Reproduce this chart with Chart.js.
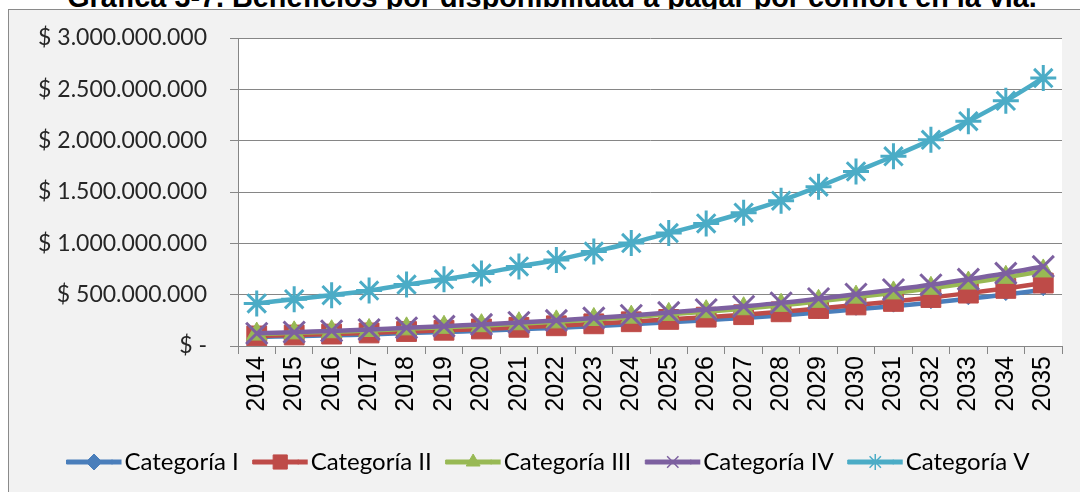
<!DOCTYPE html>
<html>
<head>
<meta charset="utf-8">
<script src="https://cdn.jsdelivr.net/npm/chart.js@4.4.0/dist/chart.umd.min.js"></script>
<style>
  html, body { margin: 0; padding: 0; background: #fff; overflow: hidden; }
  body { width: 1080px; height: 492px; position: relative; }
  #titulo {
    position: absolute; left: 0; width: 1104px; top: -17px;
    text-align: center; white-space: nowrap; color: #000;
    font: bold 28.8px "Liberation Sans", Arial, sans-serif; line-height: 28.8px;
  }
  #marco {
    position: absolute; left: 8px; top: 9px; width: 1100px; height: 500px;
    background: #f2f2f2; border: 1px solid #8a8a8a;
  }
  #caja { position: absolute; left: 0; top: 0; width: 1071px; height: 482px; }
</style>
</head>
<body>
<div id="titulo">Gráfica 3-7. Beneficios por disponibilidad a pagar por confort en la vía.</div>
<div id="marco">
  <div id="caja"><canvas id="grafica"></canvas></div>
</div>
<script>
// años del horizonte de evaluación
var anios = ['2014','2015','2016','2017','2018','2019','2020','2021','2022','2023','2024',
             '2025','2026','2027','2028','2029','2030','2031','2032','2033','2034','2035'];

// beneficios en pesos (aproximados)
var categoriaI   = [87e6, 96e6, 104e6, 113e6, 126e6, 137e6, 148e6, 163e6, 176e6, 193e6, 211e6,
                    231e6, 251e6, 273e6, 297e6, 326e6, 357e6, 388e6, 422e6, 460e6, 501e6, 548e6];
var categoriaII  = [98e6, 107e6, 116e6, 127e6, 141e6, 153e6, 166e6, 182e6, 197e6, 216e6, 236e6,
                    259e6, 281e6, 305e6, 333e6, 365e6, 400e6, 434e6, 472e6, 515e6, 561e6, 613e6];
var categoriaIII = [116e6, 128e6, 139e6, 151e6, 167e6, 182e6, 198e6, 217e6, 235e6, 258e6, 281e6,
                    308e6, 334e6, 363e6, 396e6, 435e6, 476e6, 517e6, 562e6, 613e6, 669e6, 731e6];
var categoriaIV  = [123e6, 135e6, 147e6, 160e6, 177e6, 193e6, 210e6, 230e6, 249e6, 273e6, 298e6,
                    327e6, 355e6, 386e6, 420e6, 461e6, 505e6, 549e6, 596e6, 650e6, 709e6, 775e6];
var categoriaV   = [415e6, 456e6, 495e6, 540e6, 598e6, 650e6, 706e6, 775e6, 838e6, 920e6, 1003e6,
                    1100e6, 1194e6, 1298e6, 1415e6, 1552e6, 1700e6, 1848e6, 2008e6, 2190e6, 2388e6, 2610e6];

var ejeMax = 3000000000;
var ejePaso = 500000000;

function pesos(v) {
  if (v === 0) return '$ -';
  return '$ ' + String(v).replace(/\B(?=(\d{3})+(?!\d))/g, '.');
}

function serie(nombre, datos, color, estilo, radio, orden) {
  return {
    label: nombre,
    data: datos,
    borderColor: color,
    backgroundColor: color,
    borderWidth: 4.5,
    tension: 0.35,
    pointStyle: estilo,
    pointRadius: radio,
    pointHoverRadius: radio,
    pointBorderWidth: (estilo === 'crossRot' || estilo === 'star') ? 3 : 1,
    pointBackgroundColor: color,
    pointBorderColor: color,
    order: orden
  };
}

// sin relleno extra de los ejes: el área lo fija layout.padding
function sinRelleno(scale) {
  scale.paddingTop = 0;
  scale.paddingBottom = 0;
  scale.paddingLeft = 0;
  scale.paddingRight = 0;
}

// fondo blanco del área de trazado
var fondoArea = {
  id: 'fondoArea',
  beforeDraw: function(chart) {
    var a = chart.chartArea, ctx = chart.ctx;
    ctx.save();
    ctx.fillStyle = '#ffffff';
    ctx.fillRect(a.left, a.top, a.right - a.left, a.bottom - a.top);
    ctx.restore();
  }
};

// la línea de la leyenda se alarga hasta casi tocar el texto, y lleva su marcador
var extraLinea = 9;
var marcasLeyenda = {
  id: 'marcasLeyenda',
  afterDraw: function(chart) {
    var leyenda = chart.legend, ctx = chart.ctx;
    if (!leyenda || !leyenda.legendHitBoxes) return;
    var ancho = chart.options.plugins.legend.labels.boxWidth;
    var alto = chart.options.plugins.legend.labels.boxHeight;
    leyenda.legendItems.forEach(function(item, i) {
      var caja = leyenda.legendHitBoxes[i];
      var ds = chart.data.datasets[item.datasetIndex];
      var cy = caja.top + caja.height / 2;
      ctx.save();
      ctx.fillStyle = ds.borderColor;
      ctx.strokeStyle = ds.borderColor;
      ctx.fillRect(caja.left + ancho - 1, cy - alto / 2 - 0.5, extraLinea + 1, alto + 1);
      ctx.lineWidth = ds.pointBorderWidth > 1 ? 1.5 : 1;
      Chart.helpers.drawPoint(ctx, {
        pointStyle: ds.pointStyle,
        radius: ds.pointStyle === 'rect' ? 10 : 8,
        rotation: 0,
        borderWidth: ctx.lineWidth
      }, caja.left + (ancho + extraLinea) / 2, cy);
      ctx.restore();
    });
  }
};

var ctx = document.getElementById('grafica');
new Chart(ctx, {
  type: 'line',
  data: {
    labels: anios,
    datasets: [
      serie('Categoría I', categoriaI, '#4a7ebb', 'rectRot', 6, 5),
      serie('Categoría II', categoriaII, '#be4b48', 'rect', 14, 4),
      serie('Categoría III', categoriaIII, '#98b954', 'triangle', 12, 3),
      serie('Categoría IV', categoriaIV, '#7d60a0', 'crossRot', 15, 2),
      serie('Categoría V', categoriaV, '#4bacc6', 'star', 13, 1)
    ]
  },
  options: {
    responsive: true,
    maintainAspectRatio: false,
    animation: false,
    layout: { padding: { top: 28, right: 15, left: 22, bottom: 8 } },
    plugins: {
      tooltip: { enabled: false },
      legend: {
        position: 'bottom',
        labels: {
          boxWidth: 46,
          boxHeight: 4,
          padding: 14,
          color: '#000',
          font: { family: 'Lato', size: 24 },
          sort: function(a, b) { return a.datasetIndex - b.datasetIndex; },
          generateLabels: function(chart) {
            var items = Chart.defaults.plugins.legend.labels.generateLabels(chart);
            items.forEach(function(it) { it.lineWidth = 1; });
            return items;
          }
        }
      }
    },
    scales: {
      x: {
        offset: true,
        grid: { display: true, drawOnChartArea: false, drawTicks: true, tickLength: 8, offset: true, color: '#868686' },
        border: { color: '#868686' },
        ticks: {
          color: '#000',
          maxRotation: 90, minRotation: 90,
          padding: 2,
          font: { family: 'Liberation Sans', size: 25 }
        },
        afterFit: function(scale) { scale.height = 90; sinRelleno(scale); }
      },
      y: {
        min: 0,
        max: ejeMax,
        grid: { color: '#868686', tickLength: 8 },
        border: { color: '#868686' },
        ticks: {
          stepSize: ejePaso,
          padding: 23,
          color: '#262626',
          font: { family: 'Lato', size: 23 },
          callback: function(v) { return pesos(v); }
        },
        afterFit: function(scale) { scale.width = 207; sinRelleno(scale); }
      }
    }
  },
  plugins: [fondoArea, marcasLeyenda]
});
</script>
</body>
</html>
